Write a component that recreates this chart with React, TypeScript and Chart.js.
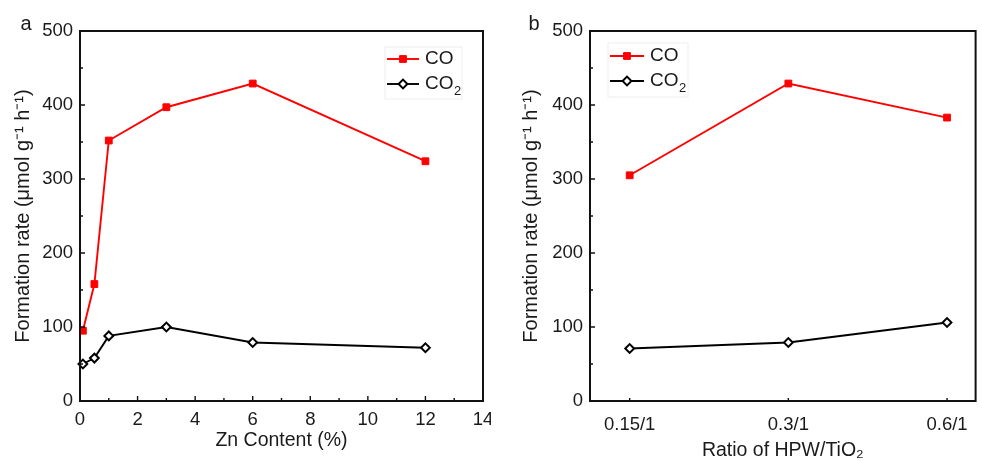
import React, { useEffect, useRef } from 'react';
import { Chart, registerables } from 'chart.js';

Chart.register(...registerables);

// ---- data ----
const znContent = [0.1, 0.5, 1, 3, 6, 12];
const coRateA = [95, 158, 352, 397, 429, 324];
const co2RateA = [50, 58, 88, 100, 79, 72];

const ratios = ['0.15/1', '0.3/1', '0.6/1'];
const coRateB = [305, 429, 383];
const co2RateB = [71, 79, 106];

const yTicks = [0, 100, 200, 300, 400, 500];
const yMinor = [50, 150, 250, 350, 450];
const xTicksA = [0, 2, 4, 6, 8, 10, 12, 14];
const xMinorA = [1, 3, 5, 7, 9, 11, 13];
const xTicksB = [0, 1, 2];

const FONT = '"Liberation Sans", Arial, Helvetica, sans-serif';
const TEXT = '#1a1a1a';
const RED = '#ff0000';

function drawMarker(ctx: CanvasRenderingContext2D, ds: any, x: number, y: number) {
  const r = ds.pointRadius;
  ctx.save();
  ctx.fillStyle = ds.pointBackgroundColor;
  ctx.strokeStyle = ds.pointBorderColor;
  ctx.lineWidth = ds.pointBorderWidth;
  ctx.beginPath();
  if (ds.pointStyle === 'rect') {
    const s = r * Math.SQRT1_2;
    ctx.rect(x - s, y - s, 2 * s, 2 * s);
  } else {
    ctx.moveTo(x - r, y);
    ctx.lineTo(x, y - r);
    ctx.lineTo(x + r, y);
    ctx.lineTo(x, y + r);
    ctx.closePath();
  }
  ctx.fill();
  ctx.stroke();
  ctx.restore();
}

const framePlugin = {
  id: 'frame',
  afterDraw(chart: any, _args: any, o: any) {
    const { ctx, chartArea } = chart;
    const { left, right, top, bottom } = chartArea;
    const xs = chart.scales.x;
    const ys = chart.scales.y;
    ctx.save();
    ctx.strokeStyle = '#111';
    ctx.lineWidth = 2;
    ctx.strokeRect(left, top, right - left, bottom - top);

    ctx.lineWidth = 1.4;
    ctx.beginPath();
    for (const v of o.yMajor) {
      const p = ys.getPixelForValue(v);
      ctx.moveTo(left, p);
      ctx.lineTo(left + 5, p);
    }
    for (const v of o.yMinor) {
      const p = ys.getPixelForValue(v);
      ctx.moveTo(left, p);
      ctx.lineTo(left + 3, p);
    }
    for (const v of o.xMajor) {
      const p = xs.getPixelForValue(v);
      ctx.moveTo(p, bottom);
      ctx.lineTo(p, bottom - o.xMajorLen);
    }
    for (const v of o.xMinor) {
      const p = xs.getPixelForValue(v);
      ctx.moveTo(p, bottom);
      ctx.lineTo(p, bottom - 3);
    }
    ctx.stroke();

    // legend
    const L = o.legend;
    ctx.strokeStyle = '#eeeeee';
    ctx.lineWidth = 1;
    ctx.strokeRect(L.box[0], L.box[1], L.box[2], L.box[3]);
    chart.data.datasets.forEach((ds: any, i: number) => {
      const y = L.y + i * L.gap;
      ctx.strokeStyle = ds.borderColor;
      ctx.lineWidth = ds.borderWidth;
      ctx.beginPath();
      ctx.moveTo(L.x, y);
      ctx.lineTo(L.x + L.len, y);
      ctx.stroke();
      drawMarker(ctx, ds, L.x + L.len / 2, y);
      ctx.fillStyle = TEXT;
      ctx.textAlign = 'left';
      ctx.textBaseline = 'middle';
      ctx.font = `19px ${FONT}`;
      const label: string = ds.label;
      const sub = label.endsWith('₂');
      const base = sub ? label.slice(0, -1) : label;
      const tx = L.x + L.len + 6;
      ctx.fillText(base, tx, y);
      if (sub) {
        const w = ctx.measureText(base).width;
        ctx.font = `13px ${FONT}`;
        ctx.fillText('2', tx + w + 0.5, y + 7);
      }
    });

    // panel letter
    ctx.font = `20px ${FONT}`;
    ctx.fillStyle = TEXT;
    ctx.textAlign = 'center';
    ctx.textBaseline = 'middle';
    ctx.fillText(o.letter, o.letterX, o.letterY);
    ctx.restore();
  },
};

function lineDatasets(xs: number[], co: number[], co2: number[]) {
  return [
    {
      label: 'CO',
      data: xs.map((x, i) => ({ x, y: co[i] })),
      borderColor: RED,
      backgroundColor: RED,
      borderWidth: 1.9,
      pointStyle: 'rect',
      pointRadius: 4.8,
      pointBackgroundColor: RED,
      pointBorderColor: RED,
      pointBorderWidth: 1,
      clip: false as any,
    },
    {
      label: 'CO₂',
      data: xs.map((x, i) => ({ x, y: co2[i] })),
      borderColor: '#000000',
      backgroundColor: '#ffffff',
      borderWidth: 1.9,
      pointStyle: 'rectRot',
      pointRadius: 4.4,
      pointBackgroundColor: '#ffffff',
      pointBorderColor: '#000000',
      pointBorderWidth: 2,
      clip: false as any,
    },
  ];
}

function yScale(width: number, titlePad: number) {
  return {
    type: 'linear',
    min: 0,
    max: 500,
    afterBuildTicks: (s: any) => {
      s.ticks = yTicks.map((v) => ({ value: v }));
    },
    afterFit: (s: any) => {
      s.width = width;
      s.paddingTop = 0;
      s.paddingBottom = 0;
    },
    grid: { display: false, drawTicks: false },
    border: { display: false },
    ticks: { font: { family: FONT, size: 18.5 }, color: TEXT, padding: 7 },
    title: {
      display: true,
      text: 'Formation rate (μmol g⁻¹ h⁻¹)',
      font: { family: FONT, size: 20 },
      color: TEXT,
      padding: { top: titlePad, bottom: 0 },
    },
  };
}

function configA(): any {
  return {
    type: 'line',
    data: { datasets: lineDatasets(znContent, coRateA, co2RateA) },
    options: {
      responsive: false,
      devicePixelRatio: 1,
      animation: false,
      layout: { padding: { top: 31, right: 8, left: 0, bottom: 0 } },
      plugins: {
        legend: { display: false },
        tooltip: { enabled: false },
        frame: {
          yMajor: yTicks,
          yMinor,
          xMajor: xTicksA,
          xMinor: xMinorA,
          xMajorLen: 5,
          legend: { x: 387, y: 59, gap: 25, len: 32, box: [385, 47, 77, 52] },
          letter: 'a',
          letterX: 26,
          letterY: 24,
        },
      },
      scales: {
        x: {
          type: 'linear',
          min: 0,
          max: 14,
          afterBuildTicks: (s: any) => {
            s.ticks = xTicksA.map((v) => ({ value: v }));
          },
          afterFit: (s: any) => {
            s.height = 61;
            s.paddingLeft = 0;
            s.paddingRight = 0;
          },
          grid: { display: false, drawTicks: false },
          border: { display: false },
          ticks: { font: { family: FONT, size: 18.5 }, color: TEXT, padding: 8, maxRotation: 0 },
          title: {
            display: true,
            text: 'Zn Content (%)',
            font: { family: FONT, size: 19.5 },
            color: TEXT,
            padding: { top: 0, bottom: 10 },
          },
        },
        y: yScale(80, 11),
      },
    },
    plugins: [framePlugin],
  };
}

function configB(): any {
  return {
    type: 'line',
    data: { datasets: lineDatasets(xTicksB, coRateB, co2RateB) },
    options: {
      responsive: false,
      devicePixelRatio: 1,
      animation: false,
      layout: { padding: { top: 31, right: 1, left: 0, bottom: 0 } },
      plugins: {
        legend: { display: false },
        tooltip: { enabled: false },
        frame: {
          yMajor: yTicks,
          yMinor,
          xMajor: xTicksB,
          xMinor: [],
          xMajorLen: 3,
          legend: { x: 119, y: 56, gap: 25, len: 34, box: [117, 43, 80, 54] },
          letter: 'b',
          letterX: 43,
          letterY: 24,
        },
      },
      scales: {
        x: {
          type: 'linear',
          min: -0.25,
          max: 2.18,
          afterBuildTicks: (s: any) => {
            s.ticks = xTicksB.map((v) => ({ value: v }));
          },
          afterFit: (s: any) => {
            s.height = 61;
            s.paddingLeft = 0;
            s.paddingRight = 0;
          },
          grid: { display: false, drawTicks: false },
          border: { display: false },
          ticks: {
            font: { family: FONT, size: 18.5 },
            color: TEXT,
            padding: 12.5,
            maxRotation: 0,
            callback: (v: any) => ratios[Math.round(Number(v))] ?? '',
          },
          title: {
            display: true,
            text: 'Ratio of HPW/TiO₂',
            font: { family: FONT, size: 19.5 },
            color: TEXT,
            padding: { top: 0, bottom: 0 },
          },
        },
        y: yScale(99, 28),
      },
    },
    plugins: [framePlugin],
  };
}

function Panel({ make }: { make: () => any }) {
  const ref = useRef<HTMLCanvasElement>(null);
  useEffect(() => {
    const chart = new Chart(ref.current as HTMLCanvasElement, make());
    return () => chart.destroy();
  }, [make]);
  return (
    <canvas
      ref={ref}
      width={491}
      height={462}
      style={{ display: 'block', width: 491, height: 462 }}
    />
  );
}

export default function App() {
  return (
    <div
      style={{
        position: 'absolute',
        left: 0,
        top: 0,
        width: 982,
        height: 462,
        display: 'flex',
        background: '#ffffff',
        overflow: 'hidden',
      }}
    >
      <Panel make={configA} />
      <Panel make={configB} />
    </div>
  );
}
